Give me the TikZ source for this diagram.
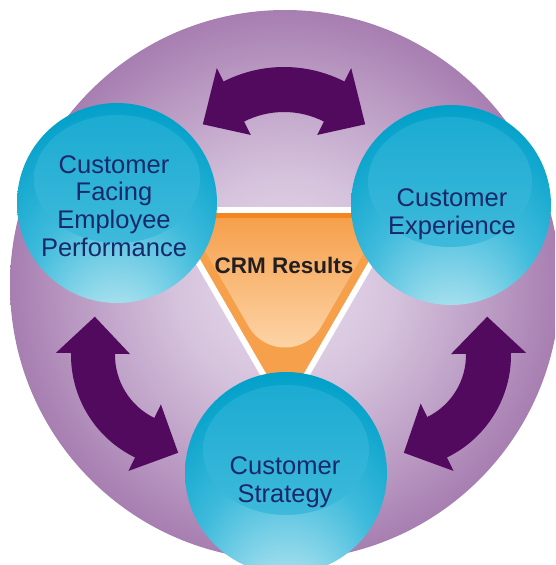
\documentclass[tikz,border=0pt]{standalone}
\usepackage{fontspec}
\setmainfont{Liberation Sans}
\usetikzlibrary{calc}
\definecolor{bgA}{HTML}{E8DEED}
\definecolor{bgB}{HTML}{D5C2DC}
\definecolor{bgC}{HTML}{B796C0}
\definecolor{bgD}{HTML}{9D70A8}
\definecolor{bgE}{HTML}{8C5A96}
\definecolor{arrowc}{HTML}{520A5E}
\definecolor{sphL}{HTML}{D2F1F7}
\definecolor{sphM}{HTML}{A6E0EE}
\definecolor{sphN}{HTML}{3FBBDC}
\definecolor{sphD}{HTML}{02A0C9}
\definecolor{hlTop}{HTML}{1CABD2}
\definecolor{hlBot}{HTML}{3EBADB}
\definecolor{navy}{HTML}{17296A}
\definecolor{orMid}{HTML}{F6A04C}
\definecolor{orDark}{HTML}{F5861F}
\definecolor{orLight}{HTML}{FDD6AA}
\definecolor{crmtext}{HTML}{231F20}
\pgfdeclareradialshading{bigball}{\pgfpoint{0bp}{0bp}}{color(0bp)=(bgA); color(10bp)=(bgB); color(20bp)=(bgC); color(28bp)=(bgD); color(35bp)=(bgE); color(50bp)=(bgE)}
\pgfdeclareradialshading{sphereshade}{\pgfpoint{0bp}{-40bp}}{color(0bp)=(sphL); color(8bp)=(sphM); color(22bp)=(sphN); color(36bp)=(sphD); color(50bp)=(sphD)}
\newcommand\dblarrow[9]{% cx cy a b ri ro h rm w
  \fill[arrowc] ($(#1,#2)+(#3:#6)$) arc[start angle=#3, end angle=#4, radius=#6]
    -- ($(#1,#2)+(#4:#6+#9)$) -- ($(#1,#2)+(#4+#7:#8)$) -- ($(#1,#2)+(#4:#5-#9)$) -- ($(#1,#2)+(#4:#5)$)
    arc[start angle=#4, end angle=#3, radius=#5]
    -- ($(#1,#2)+(#3:#5-#9)$) -- ($(#1,#2)+(#3-#7:#8)$) -- ($(#1,#2)+(#3:#6+#9)$) -- cycle;}
\tikzset{
  spheretext/.style={text=navy, align=center, inner sep=0pt, font=\fontsize{25.5}{27.8}\selectfont},
  sphere/.style={shading=sphereshade},
  highlight/.style={top color=hlTop, bottom color=hlBot}
}
\begin{document}
\begin{tikzpicture}[x=1pt,y=-1pt]
\useasboundingbox (0,0) rectangle (555,565);
\clip (0,0) rectangle (555,565);
% big purple disc
\shade[shading=bigball] (285,285) circle[radius=275];
% curved double arrows
\dblarrow{284}{200}{-117}{-63}{88}{133}{20}{111}{15}
\dblarrow{185}{355}{116}{181}{70}{114}{22}{98}{15}
\dblarrow{397}{355}{-1}{64}{69}{114}{22}{98}{15}
% CRM triangle
\fill[white] (163,207) -- (407,207) -- (285,418) -- cycle;
\fill[orMid] (173.4,213) -- (396.6,213) -- (285,406) -- cycle;
\fill[orDark] (173.4,213) -- (396.6,213) -- (393.7,218) -- (176.3,218) -- cycle;
\shade[top color=orMid, bottom color=orLight] (186,218) -- (248.6,326.5) arc[start angle=150, end angle=30, radius=42] -- (384,218) -- cycle;
\node[text=crmtext, font=\fontsize{22.5}{25}\selectfont\bfseries, inner sep=0pt] (crm) at (284,265) {CRM Results};
% spheres
\shade[sphere] (117,203) circle[radius=100];
\shade[highlight] (117,179) ellipse[x radius=83, y radius=64];
\shade[sphere] (451,205) circle[radius=100];
\shade[highlight] (450,182) ellipse[x radius=82, y radius=65];
\shade[sphere] (286,473) circle[radius=101];
\shade[highlight] (286,450) ellipse[x radius=83, y radius=65];
\node[spheretext] (cfep) at (114,206) {Customer\\Facing\\Employee\\Performance};
\node[spheretext] (cexp) at (452,214) {Customer\\Experience};
\node[spheretext] (cstr) at (285,482) {Customer\\Strategy};
\end{tikzpicture}
\end{document}
